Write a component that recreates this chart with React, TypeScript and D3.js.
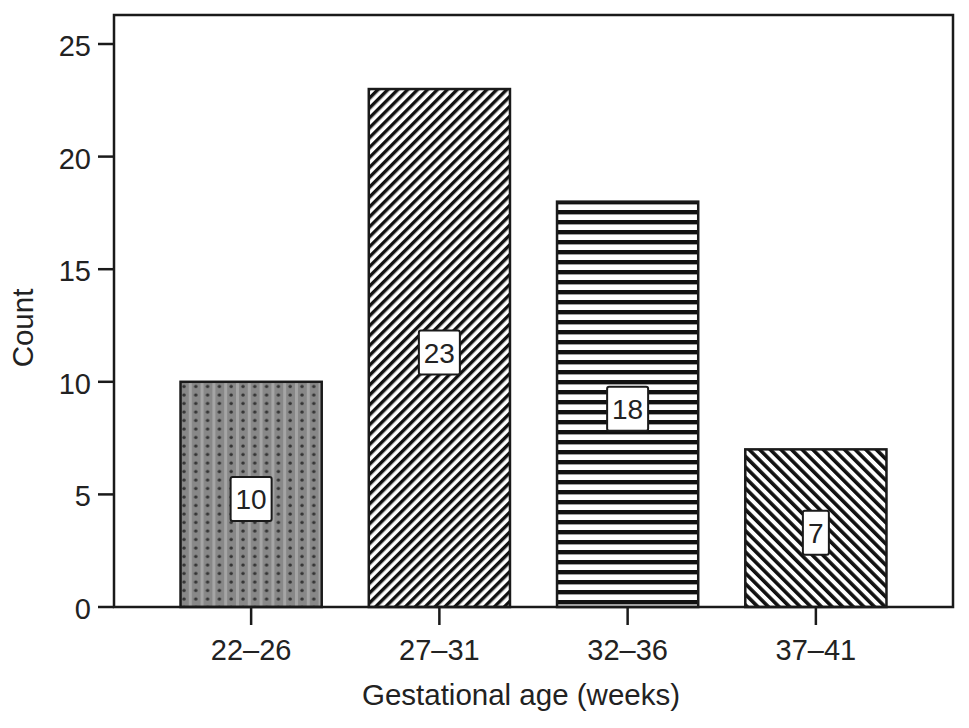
import React from "react";
import * as d3 from "d3";

const categories = ["22–26", "27–31", "32–36", "37–41"];
const counts = [10, 23, 18, 7];
const patterns = ["dots", "diagUp", "horiz", "diagDown"];
const yTicks = [0, 5, 10, 15, 20, 25];

const W = 969, H = 728;
const left = 114, right = 953, top = 15, bottom = 607;

export default function App() {
  const y = d3.scaleLinear().domain([0, 25]).range([bottom, 44]);
  const x = d3.scaleBand<string>().domain(categories).range([157, 910]).paddingInner(0.25).paddingOuter(0.125);
  const bw = x.bandwidth();
  const font = "'Liberation Sans', Arial, Helvetica, sans-serif";
  const ink = "#1a1a1a";
  return (
    <svg width={W} height={H} style={{ position: "absolute", left: 0, top: 0, background: "#fff" }} fontFamily={font}>
      <defs>
        <pattern id="dots" width={11.8} height={8.5} patternUnits="userSpaceOnUse">
          <rect width={11.8} height={8.5} fill="#888" />
          <rect x={0} width={3} height={8.5} fill="#a5a5a5" />
          <circle cx={7} cy={4} r={1.7} fill="#333" />
        </pattern>
        <pattern id="diagUp" width={7} height={7} patternUnits="userSpaceOnUse" patternTransform="rotate(45)">
          <rect width={7} height={7} fill="#fff" />
          <rect width={3.4} height={7} fill="#111" />
        </pattern>
        <pattern id="horiz" width={10} height={10} patternUnits="userSpaceOnUse">
          <rect width={10} height={10} fill="#fff" />
          <rect y={0} width={10} height={4.4} fill="#111" />
        </pattern>
        <pattern id="diagDown" width={7.5} height={7.5} patternUnits="userSpaceOnUse" patternTransform="rotate(-45)">
          <rect width={7.5} height={7.5} fill="#fff" />
          <rect width={3.6} height={7.5} fill="#111" />
        </pattern>
      </defs>
      {categories.map((c, i) => {
        const x0 = x(c)!;
        const yv = y(counts[i]);
        return (
          <rect key={c} x={x0} y={yv} width={bw} height={bottom - yv} fill={"url(#" + patterns[i] + ")"} stroke={ink} strokeWidth={2.5} />
        );
      })}
      {categories.map((c, i) => {
        const cx = x(c)! + bw / 2;
        const cy = y(counts[i] / 2) + 4.5;
        const label = String(counts[i]);
        const w = label.length > 1 ? 41 : 26;
        return (
          <g key={"l" + c}>
            <rect x={cx - w / 2} y={cy - 22} width={w} height={44} fill="#fff" stroke={ink} strokeWidth={2} rx={2} />
            <text x={cx} y={cy + 10} textAnchor="middle" fontSize={28} fill="#222">{label}</text>
          </g>
        );
      })}
      <rect x={left} y={top} width={right - left} height={bottom - top} fill="none" stroke={ink} strokeWidth={2.5} />
      {yTicks.map(t => (
        <g key={t}>
          <line x1={left - 16} x2={left} y1={y(t)} y2={y(t)} stroke={ink} strokeWidth={2.5} />
          <text x={left - 23} y={y(t) + 12} textAnchor="end" fontSize={29} fill="#222">{t}</text>
        </g>
      ))}
      {categories.map(c => {
        const cx = x(c)! + bw / 2;
        return (
          <g key={"t" + c}>
            <line x1={cx} x2={cx} y1={bottom} y2={bottom + 18} stroke={ink} strokeWidth={2.5} />
            <text x={cx} y={660} textAnchor="middle" fontSize={29} fill="#222">{c}</text>
          </g>
        );
      })}
      <text x={521} y={705} textAnchor="middle" fontSize={29.5} fill="#222">Gestational age (weeks)</text>
      <text transform={"translate(33,328) rotate(-90)"} textAnchor="middle" fontSize={29.5} fill="#222">Count</text>
    </svg>
  );
}
